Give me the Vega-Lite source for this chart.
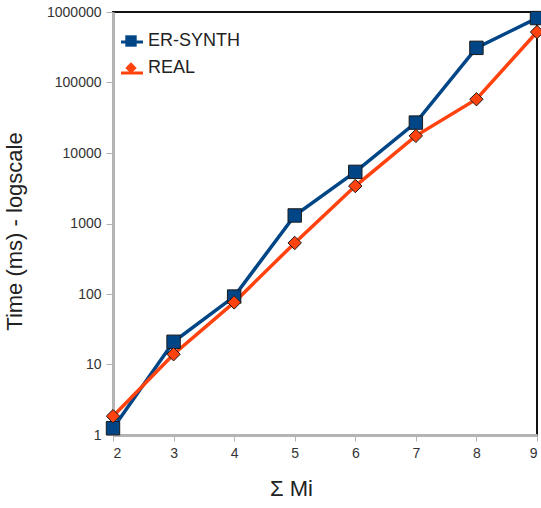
{
  "$schema": "https://vega.github.io/schema/vega-lite/v6.json",
  "autosize": "none",
  "padding": {"left": 113, "top": 12, "right": 4, "bottom": 73},
  "width": 424,
  "height": 423,
  "background": "white",
  "config": {
    "font": "Liberation Sans",
    "view": {"stroke": "#111111", "strokeWidth": 2}
  },
  "data": {
    "values": [
      {"m": 2, "series": "ER-SYNTH", "t": 1.25},
      {"m": 3, "series": "ER-SYNTH", "t": 21},
      {"m": 4, "series": "ER-SYNTH", "t": 92},
      {"m": 5, "series": "ER-SYNTH", "t": 1300},
      {"m": 6, "series": "ER-SYNTH", "t": 5400},
      {"m": 7, "series": "ER-SYNTH", "t": 27000},
      {"m": 8, "series": "ER-SYNTH", "t": 310000},
      {"m": 9, "series": "ER-SYNTH", "t": 820000},
      {"m": 2, "series": "REAL", "t": 1.85},
      {"m": 3, "series": "REAL", "t": 14},
      {"m": 4, "series": "REAL", "t": 76},
      {"m": 5, "series": "REAL", "t": 530},
      {"m": 6, "series": "REAL", "t": 3400},
      {"m": 7, "series": "REAL", "t": 17500},
      {"m": 8, "series": "REAL", "t": 58000},
      {"m": 9, "series": "REAL", "t": 520000}
    ]
  },
  "encoding": {
    "x": {
      "field": "m", "type": "quantitative",
      "scale": {"domain": [2, 9], "nice": false, "zero": false},
      "axis": {
        "title": "Σ Mi", "titleFontSize": 22, "titleFontWeight": "normal", "titleColor": "#222222", "titlePadding": 18,
        "titleX": 178,
        "values": [2, 3, 4, 5, 6, 7, 8, 9], "format": "d",
        "labelFontSize": 14, "labelColor": "#333333", "labelPadding": 5,
        "grid": false, "domainColor": "#b3b3b3", "domainWidth": 3,
        "tickColor": "#b3b3b3", "tickSize": 6, "tickWidth": 1
      }
    },
    "y": {
      "field": "t", "type": "quantitative",
      "scale": {"type": "log", "domain": [1, 1000000], "nice": false},
      "axis": {
        "title": "Time (ms) - logscale", "titleFontSize": 22, "titleFontWeight": "normal", "titleColor": "#222222", "titlePadding": 20,
        "titleY": 219,
        "values": [1, 10, 100, 1000, 10000, 100000, 1000000], "format": "d",
        "labelFontSize": 14, "labelColor": "#333333", "labelPadding": 5,
        "grid": false, "domainColor": "#b3b3b3", "domainWidth": 3,
        "tickColor": "#b3b3b3", "tickSize": 7, "tickWidth": 1
      }
    }
  },
  "layer": [
    {
      "mark": {"type": "line", "strokeWidth": 3.5},
      "encoding": {
        "color": {
          "field": "series", "type": "nominal",
          "scale": {"range": ["#004586", "#ff420e"]},
          "legend": {
            "title": null, "orient": "none", "legendX": 6.5, "legendY": 17.5,
            "labelFontSize": 18, "labelOpacity": 0, "labelExpr": "''", "symbolType": "stroke",
            "symbolSize": 484, "symbolStrokeWidth": 3,
            "rowPadding": 9, "labelOffset": 3
          }
        }
      }
    },
    {
      "mark": {"type": "point", "filled": true, "stroke": "#1a1a1a", "strokeWidth": 1, "opacity": 1, "size": 180},
      "encoding": {
        "shape": {
          "field": "series", "type": "nominal",
          "scale": {"domain": ["ER-SYNTH", "REAL"], "range": ["square", "diamond"]},
          "legend": {
            "title": null, "orient": "none", "legendX": 9, "legendY": 20,
            "labelFontSize": 18, "labelColor": "#222222", "symbolSize": 130,
            "rowPadding": 9, "labelOffset": 8, "symbolStrokeColor": "#1a1a1a", "symbolStrokeWidth": 1
          }
        },
        "fill": {
          "field": "series", "type": "nominal",
          "scale": {"domain": ["ER-SYNTH", "REAL"], "range": ["#004586", "#ff420e"]},
          "legend": {
            "title": null, "orient": "none", "legendX": 9, "legendY": 20,
            "labelFontSize": 18, "labelColor": "#222222", "symbolSize": 130,
            "rowPadding": 9, "labelOffset": 8, "symbolStrokeColor": "#1a1a1a", "symbolStrokeWidth": 1
          }
        }
      }
    }
  ]
}
